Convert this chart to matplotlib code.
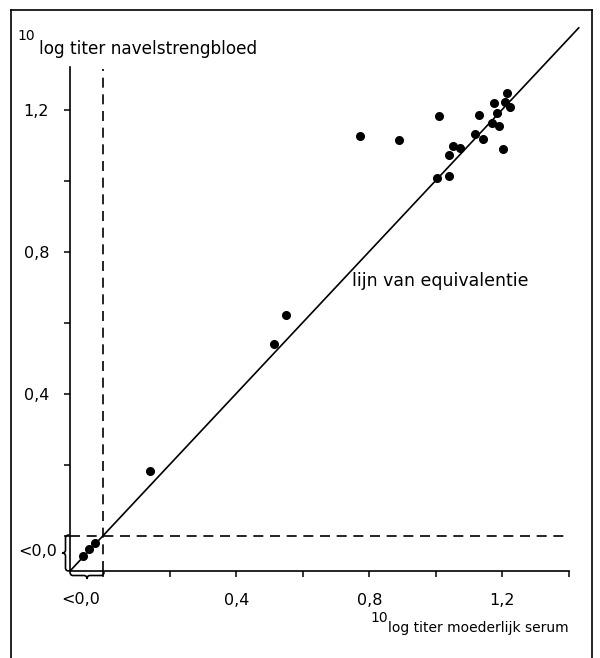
import matplotlib
matplotlib.use("Agg")
import matplotlib.pyplot as plt
from matplotlib.lines import Line2D
from matplotlib.path import Path
from matplotlib.patches import PathPatch
import matplotlib.transforms as mtransforms
import numpy as np

# ---- data (log10 titers) ----
mother_serum = [0.771, 0.888, 1.011, 1.131, 1.213, 1.174, 1.207, 1.224, 1.184, 1.168,
                1.189, 1.119, 1.143, 1.051, 1.074, 1.041, 1.202, 1.004, 1.041,
                0.550, 0.513, 0.141, -0.061, -0.044, -0.024]
cord_blood = [1.125, 1.114, 1.183, 1.185, 1.247, 1.219, 1.222, 1.206, 1.189, 1.163,
              1.154, 1.130, 1.118, 1.097, 1.092, 1.071, 1.090, 1.008, 1.013,
              0.621, 0.540, 0.183, -0.058, -0.039, -0.021]
x_ticks = [0.0, 0.2, 0.4, 0.6, 0.8, 1.0, 1.2, 1.4]
x_ticklabels = ["", "", "0,4", "", "0,8", "", "1,2", ""]
y_ticks = [0.0, 0.2, 0.4, 0.6, 0.8, 1.0, 1.2]
y_ticklabels = ["", "", "0,4", "", "0,8", "", "1,2"]
below_label = "<0,0"
x_title = "log titer moederlijk serum"
y_title = "log titer navelstrengbloed"
title_prefix = "10"
line_label = "lijn van equivalentie"

W, H = 600, 658
plt.rcParams['font.family'] = ['DejaVu Sans']

fig = plt.figure(figsize=(W / 100, H / 100), dpi=100)
# transform for figure pixel coords measured from top-left
pix = mtransforms.Affine2D().scale(1 / W, -1 / H).translate(0, 1) + fig.transFigure

ax = fig.add_axes([70 / W, (H - 571) / H, 1.55 * 332.5 / W, 1.55 * 355 / H])
ax.set_xlim(-0.1, 1.45)
ax.set_ylim(-0.1, 1.45)
ax.patch.set_alpha(0)

for s in ("top", "right"):
    ax.spines[s].set_visible(False)
ax.spines["left"].set_bounds(-0.1, 1.32)
ax.spines["bottom"].set_bounds(-0.1, 1.4)
for s in ("left", "bottom"):
    ax.spines[s].set_linewidth(1.2)

ax.set_xticks(x_ticks)
ax.set_xticklabels(x_ticklabels)
ax.set_yticks(y_ticks)
ax.set_yticklabels(y_ticklabels)
ax.tick_params(axis="both", direction="out", length=4, width=1.1, labelsize=11.5)
ax.tick_params(axis="x", pad=12)
ax.tick_params(axis="y", pad=11)

# equivalence line
eq = np.array([-0.1, 1.43])
ax.plot(eq, eq, color="black", lw=1.2, clip_on=False)

# dashed threshold lines
ax.plot([0, 0], [-0.1, 1.313], color="black", lw=1.2, ls=(0, (6, 4)), clip_on=False)
ax.plot([-0.1, 1.405], [0, 0], color="black", lw=1.2, ls=(0, (6, 4)), clip_on=False)

# data points
ax.plot(mother_serum, cord_blood, "o", color="black", markersize=5.5, clip_on=False)

ax.text(0.749, 0.716, line_label, fontsize=12.5, ha="left", va="center")

# "<0,0" labels
fig.text(81, 599, below_label, transform=pix, fontsize=11.5, ha="center", va="center")
fig.text(57, 552, below_label, transform=pix, fontsize=11.5, ha="right", va="center")

# braces
def brace_v(xr, y0, y1, d):
    ym = (y0 + y1) / 2
    xm = xr - d / 2
    verts = [(xr, y0), (xm, y0), (xm, y0 + 3), (xm, ym - 3), (xm, ym), (xr - d, ym),
             (xm, ym), (xm, ym + 3), (xm, y1 - 3), (xm, y1), (xr, y1)]
    codes = [Path.MOVETO, Path.CURVE3, Path.CURVE3, Path.LINETO, Path.CURVE3, Path.CURVE3,
             Path.CURVE3, Path.CURVE3, Path.LINETO, Path.CURVE3, Path.CURVE3]
    return Path(verts, codes)

def brace_h(yt, x0, x1, d):
    xm_ = (x0 + x1) / 2
    ym = yt + d / 2
    verts = [(x0, yt), (x0, ym), (x0 + 3, ym), (xm_ - 3, ym), (xm_, ym), (xm_, yt + d),
             (xm_, ym), (xm_ + 3, ym), (x1 - 3, ym), (x1, ym), (x1, yt)]
    codes = [Path.MOVETO, Path.CURVE3, Path.CURVE3, Path.LINETO, Path.CURVE3, Path.CURVE3,
             Path.CURVE3, Path.CURVE3, Path.LINETO, Path.CURVE3, Path.CURVE3]
    return Path(verts, codes)

fig.add_artist(PathPatch(brace_v(69, 535, 571, 7), transform=pix, fill=False, lw=1.2,
                         edgecolor="black"))
fig.add_artist(PathPatch(brace_h(572, 70, 104, 7), transform=pix, fill=False, lw=1.2,
                         edgecolor="black"))

# axis titles
fig.text(17, 40, title_prefix, transform=pix, fontsize=10, ha="left", va="baseline")
fig.text(39, 54, y_title, transform=pix, fontsize=12.2, ha="left", va="baseline")
fig.text(370, 622, title_prefix, transform=pix, fontsize=10, ha="left", va="baseline")
fig.text(388, 632, x_title, transform=pix, fontsize=10.0, ha="left", va="baseline")

# outer frame
for (x0, y0, x1, y1) in [(11, 10, 11, 658), (11, 10, 592, 10), (592, 10, 592, 658)]:
    fig.add_artist(Line2D([x0, x1], [y0, y1], color="black", lw=1.2, transform=pix))

fig.savefig("out.png", dpi=100)
